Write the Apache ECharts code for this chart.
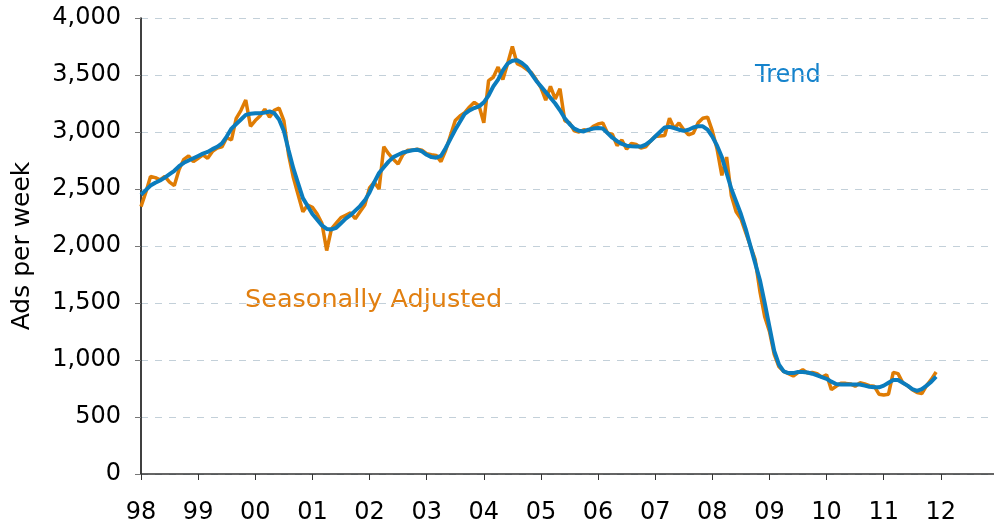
<!DOCTYPE html>
<html>
<head>
<meta charset="utf-8">
<script src="https://cdn.jsdelivr.net/npm/echarts@6/dist/echarts.min.js"></script>
<style>
  html, body { margin: 0; padding: 0; background: #fff; }
  #chart { width: 994px; height: 526px; }
</style>
</head>
<body>
<div id="chart"></div>
<script>
// monthly data, Jan 1998 .. Dec 2011
var startYear = 1998;
var yearTicks = [1998, 1999, 2000, 2001, 2002, 2003, 2004, 2005, 2006, 2007, 2008, 2009, 2010, 2011, 2012];

var seasonallyAdjusted = [
  2345, 2470, 2610, 2600, 2580, 2610, 2560, 2530, 2670, 2760, 2790, 2740,
  2770, 2800, 2770, 2830, 2860, 2870, 2950, 2930, 3120, 3190, 3280, 3050,
  3100, 3140, 3200, 3130, 3190, 3210, 3100, 2800, 2600, 2450, 2300, 2360,
  2340, 2280, 2200, 1960, 2150, 2200, 2250, 2270, 2290, 2240, 2300, 2360,
  2510, 2560, 2500, 2870, 2810, 2760, 2720, 2800, 2840, 2840, 2850, 2840,
  2810, 2800, 2795, 2740, 2840, 2970, 3100, 3140, 3170, 3220, 3260, 3230,
  3080, 3450, 3480, 3570, 3460, 3600, 3750, 3600, 3580, 3550, 3520, 3460,
  3390, 3280, 3400, 3290, 3380, 3100, 3080, 3010, 3000, 3020, 3010, 3050,
  3070, 3080, 2990, 2980, 2880, 2930, 2850, 2900, 2890, 2860, 2870, 2920,
  2960, 2965, 2970, 3120, 3030, 3080, 3020, 2975, 2990, 3080, 3120, 3130,
  3010, 2850, 2620, 2780, 2440, 2300, 2240, 2120, 2000, 1880, 1600, 1380,
  1250, 1050, 940, 900, 880, 860, 890, 915, 885, 890, 880, 850,
  870, 740, 770, 795, 795, 790, 770, 800, 790, 775, 770, 700,
  693, 700, 891, 880, 800, 775, 740, 715, 706, 775, 830, 895
];

var trend = [
  2450, 2490, 2530, 2555, 2575, 2600, 2630, 2660, 2700, 2730, 2750, 2770,
  2790, 2810, 2825, 2850, 2870, 2900, 2960, 3030, 3070, 3110, 3150, 3160,
  3165, 3165, 3170, 3180, 3165, 3110, 3010, 2840, 2680, 2550, 2420, 2350,
  2280, 2230, 2180, 2150, 2145, 2160, 2200, 2240, 2270, 2310, 2350, 2400,
  2470, 2560, 2640, 2690, 2740, 2780, 2800, 2820, 2830, 2840, 2845, 2830,
  2800, 2780, 2775, 2790, 2860, 2940, 3020, 3090, 3160, 3190, 3210, 3225,
  3260, 3320, 3400, 3460, 3540, 3600, 3625, 3630, 3605, 3570, 3510, 3450,
  3400, 3350, 3300, 3250, 3190, 3120, 3070, 3030, 3010, 3005, 3020, 3030,
  3035, 3030, 2990, 2950, 2920, 2895, 2880, 2875, 2872, 2872, 2890, 2920,
  2960, 3000, 3040, 3045, 3035, 3020, 3010, 3020, 3040, 3050, 3050, 3020,
  2960, 2880, 2780, 2640, 2500, 2390, 2280, 2150, 2000, 1850, 1700, 1500,
  1290, 1080, 960, 900, 885, 885, 895, 895, 890, 880, 865, 850,
  835, 810, 790, 785, 785, 785, 785, 785, 775, 765, 760, 760,
  775, 800, 825, 825, 800, 775, 745, 730, 745, 775, 810, 855
];

function toPoints(values) {
  return values.map(function (v, i) {
    return [startYear + i / 12, v];
  });
}

var FONT = "DejaVu Sans";
var myChart = echarts.init(document.getElementById("chart"));

var option = {
  animation: false,
  backgroundColor: "#fff",
  grid: { left: 141, right: -4, top: 18, bottom: 52, outerBoundsMode: "none" },
  xAxis: {
    type: "value",
    min: 1998,
    max: 2013,
    interval: 1,
    axisLine: { lineStyle: { color: "#333", width: 1.5 } },
    axisTick: { show: true, length: 6, lineStyle: { color: "#333" } },
    splitLine: { show: false },
    axisLabel: {
      margin: 27,
      color: "#000",
      fontFamily: FONT,
      fontSize: 24,
      formatter: function (v) {
        if (yearTicks.indexOf(v) < 0) return "";
        return String(v % 100).padStart(2, "0");
      }
    }
  },
  yAxis: {
    type: "value",
    min: 0,
    max: 4000,
    interval: 500,
    name: "Ads per week",
    nameLocation: "middle",
    nameRotate: 90,
    nameGap: 106,
    nameTextStyle: { color: "#000", fontFamily: FONT, fontSize: 25 },
    axisLine: { show: true, lineStyle: { color: "#000", width: 1.5 } },
    axisTick: { show: true, length: 6, lineStyle: { color: "#777" } },
    splitLine: {
      show: true,
      lineStyle: { color: "#c3d0d9", type: [7, 7], width: 1 }
    },
    axisLabel: {
      margin: 20,
      color: "#000",
      fontFamily: FONT,
      fontSize: 24,
      formatter: function (v) {
        return v.toLocaleString("en-US");
      }
    }
  },
  graphic: [
    {
      type: "text",
      left: 245,
      top: 287,
      style: { text: "Seasonally Adjusted", fill: "#e17f10", font: "25.5px '" + FONT + "'" }
    },
    {
      type: "text",
      left: 755,
      top: 64,
      style: { text: "Trend", fill: "#1583cc", font: "24px '" + FONT + "'" }
    }
  ],
  series: [
    {
      name: "Seasonally Adjusted",
      type: "line",
      showSymbol: false,
      data: toPoints(seasonallyAdjusted),
      lineStyle: { color: "#df7c04", width: 3.5 },
      z: 2
    },
    {
      name: "Trend",
      type: "line",
      showSymbol: false,
      data: toPoints(trend),
      lineStyle: { color: "#0b7cbd", width: 4 },
      z: 3
    }
  ]
};

myChart.setOption(option);
</script>
</body>
</html>
